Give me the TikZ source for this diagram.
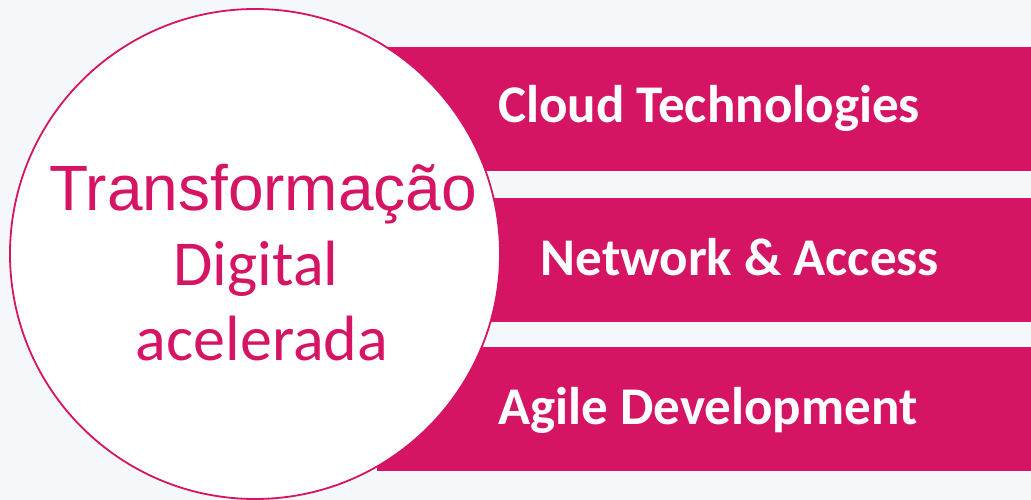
\documentclass[tikz,border=0pt]{standalone}
\usepackage{fontspec}
\setmainfont{Carlito}
\newfontfamily\arialfont{Liberation Sans}
\usepackage{tikz}
\usetikzlibrary{positioning}
\definecolor{barpink}{RGB}{213,20,100}
\definecolor{paper}{RGB}{245,248,250}

\begin{document}
\begin{tikzpicture}[x=1pt,y=-1pt,
bar/.style={fill=barpink, draw=none, anchor=north west, minimum width=654pt, minimum height=124pt, inner sep=0pt},
bartext/.style={text=white, font=\fontsize{53}{60}\selectfont\bfseries, anchor=base},
hub/.style={circle, draw=barpink, line width=1.8pt, fill=white, minimum size=490pt, inner sep=0pt},
hubtext/.style={text=barpink, font=\fontsize{64}{70}\selectfont, anchor=base}]
\fill[paper] (0,0) rectangle (1031,500);
\useasboundingbox (0,0) rectangle (1031,500);
% the three bars, behind the circle
\node[bar] (cloud) at (377,47) {};
\node[bar] (network) at (377,198) {};
\node[bar] (agile) at (377,347) {};
\node[bartext] (cloudtext) at (709,123) {Cloud Technologies};
\node[bartext] (networktext) at (740,275) {Network \& Access};
\node[bartext] (agiletext) at (708,424) {Agile Development};
% the circle
\node[hub] (hub) at (255,254) {};
\node[hubtext, font=\arialfont\fontsize{64}{70}\selectfont] (trans) at (263,210) {Transformação};
\node[hubtext] (digital) at (256,285) {Digital};
\node[hubtext] (acel) at (262,360) {acelerada};
\end{tikzpicture}
\end{document}
